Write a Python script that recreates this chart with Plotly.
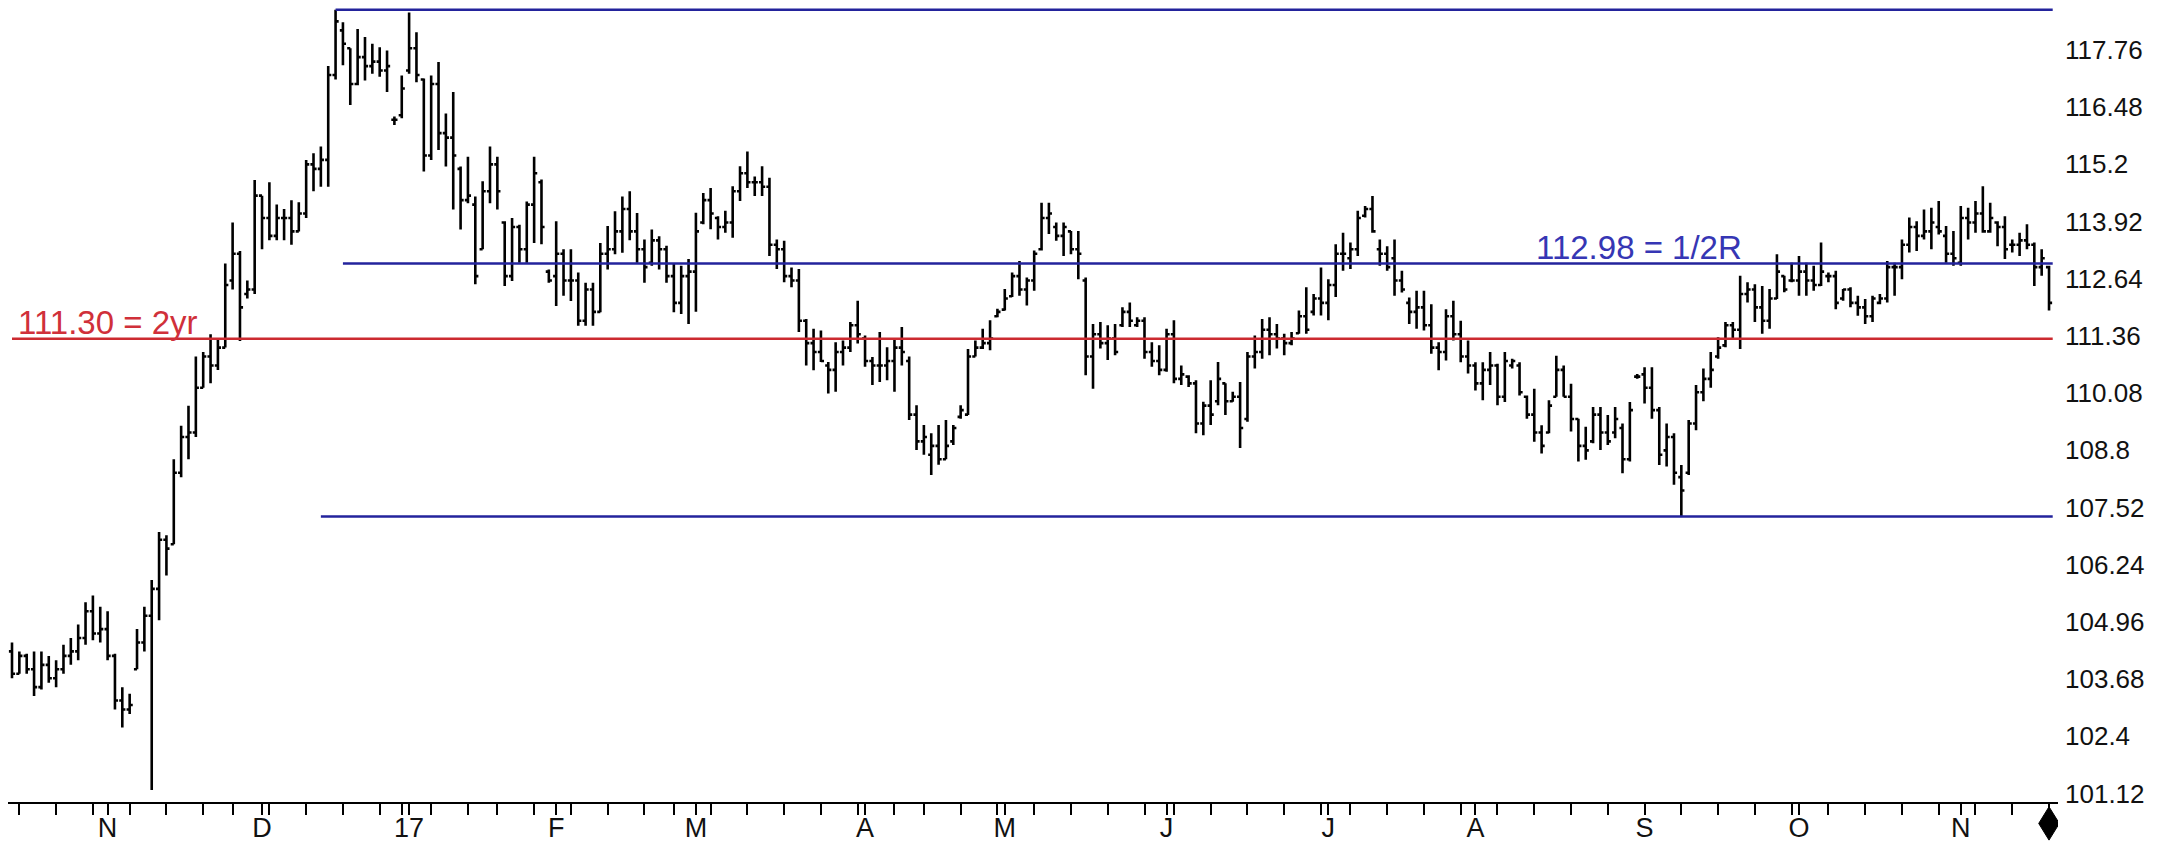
import pandas as pd
import plotly.graph_objects as go

# trading days shown on the chart (US holidays and a few thin days are missing)
first_day = "2016-10-13"
last_day = "2017-11-17"
skipped_days = ["2016-11-24", "2016-12-26", "2016-12-30", "2017-01-02", "2017-01-16",
                "2017-02-20", "2017-04-14", "2017-05-29", "2017-07-04"]

month_labels = ["N", "D", "17", "F", "M", "A", "M", "J", "J", "A", "S", "O", "N"]

open_ = [
    # Oct 2016
    104.30, 103.80, 104.20, 103.90, 103.50, 104.00, 103.70, 103.90, 104.20, 104.30, 104.60, 105.20, 104.70,
    # Nov 2016
    104.80, 104.20, 103.20, 103.00, 103.90, 104.50, 105.10, 105.70, 106.80, 106.70, 108.30, 109.10, 109.20,
    110.20, 110.90, 110.70, 111.10, 112.60, 113.20, 112.30, 112.40,
    # Dec 2016
    114.50, 114.00, 113.60, 114.00, 114.00, 113.70, 114.10, 115.20, 115.10, 115.30, 117.20, 118.20, 117.80,
    117.00, 117.60, 117.40, 117.50, 117.30, 116.20, 116.30,
    # Jan 2017
    117.30, 117.80, 117.10, 115.40, 117.00, 115.90, 115.80, 115.10, 114.40, 114.30, 113.30, 114.60, 115.20,
    113.90, 112.70, 113.80, 113.30, 114.30, 114.80, 112.80,
    # Feb 2017
    112.70, 113.20, 112.60, 112.60, 111.70, 112.40, 111.90, 113.20, 113.30, 113.70, 114.20, 113.70, 113.30,
    113.00, 113.50, 113.30, 112.70, 112.10, 112.70,
    # Mar 2017
    112.80, 113.90, 114.40, 114.00, 113.80, 113.90, 114.60, 115.00, 114.80, 114.80, 114.70, 113.40, 113.30,
    112.70, 112.60, 111.70, 111.20, 111.00, 110.70, 110.60, 111.00, 111.10, 111.60,
    # Apr 2017
    111.30, 110.80, 110.70, 110.70, 110.80, 111.10, 110.80, 109.60, 109.00, 108.70, 108.90, 108.60, 109.00,
    109.55, 109.60, 110.90, 111.10, 111.20, 111.80,
    # May 2017
    111.95, 112.25, 112.70, 112.40, 112.60, 113.30, 114.00, 113.80, 113.60, 113.70, 113.30, 112.60, 110.90,
    111.40, 111.20, 111.30, 111.60, 111.90, 111.60, 111.70, 111.00, 110.80,
    # Jun 2017
    110.60, 111.40, 110.40, 110.45, 110.30, 109.40, 109.80, 109.90, 110.30, 109.90, 110.00, 109.50, 110.90,
    111.00, 111.50, 111.40, 111.30, 111.20, 111.42, 111.80, 111.90, 112.20,
    # Jul 2017
    112.10, 112.50, 113.20, 113.10, 113.30, 114.05, 114.20, 113.30, 113.20, 113.10, 112.60, 112.10, 111.90,
    112.00, 111.60, 111.10, 111.00, 111.80, 111.40, 110.90,
    # Aug 2017
    110.70, 110.30, 110.60, 110.70, 110.00, 110.70, 110.70, 110.00, 109.60, 109.20, 109.20, 110.00, 110.60,
    110.00, 109.50, 108.90, 109.00, 109.60, 109.20, 109.20, 109.30, 108.60, 110.45,
    # Sep 2017
    110.50, 110.20, 109.70, 108.80, 109.10, 108.20, 108.30, 109.40, 110.10, 110.40, 110.90, 111.15, 111.60,
    111.50, 112.30, 112.40, 112.00, 111.70, 112.20, 112.70, 112.60,
    # Oct 2017
    112.60, 112.80, 112.60, 112.50, 112.70, 112.70, 112.20, 112.40, 112.10, 112.00, 111.80, 112.10, 112.20,
    112.90, 112.90, 113.40, 113.80, 113.60, 113.70, 113.80, 113.60, 113.20,
    # Nov 2017
    113.00, 114.00, 113.90, 114.10, 113.70, 113.90, 113.80, 113.40, 113.40, 113.50, 113.40, 112.90, 112.90,
]

high = [
    104.50, 104.30, 104.25, 104.30, 104.30, 104.20, 104.10, 104.45, 104.60, 104.90, 105.40, 105.55, 105.30,
    105.20, 104.25, 103.50, 103.35, 104.80, 105.30, 105.90, 106.97, 106.90, 108.60, 109.35, 109.80, 110.90,
    111.00, 111.40, 111.30, 112.98, 113.90, 113.26, 112.60, 114.85,
    114.50, 114.80, 114.30, 114.20, 114.40, 114.35, 115.30, 115.45, 115.60, 117.40, 118.66, 118.38, 117.80,
    118.23, 118.05, 117.90, 117.82, 117.75, 116.27, 117.19,
    118.60, 118.16, 117.12, 117.19, 117.49, 116.34, 116.82, 115.15, 115.37, 114.48, 114.82, 115.60, 115.37,
    113.93, 114.00, 113.85, 114.37, 115.37, 114.86, 112.85,
    113.93, 113.30, 113.30, 112.78, 112.55, 112.55, 113.44, 113.82, 114.15, 114.48, 114.60, 114.11, 113.52,
    113.74, 113.59, 113.38, 112.97, 112.93, 113.08,
    114.12, 114.56, 114.67, 114.04, 114.16, 114.71, 115.16, 115.49, 114.93, 115.16, 114.90, 113.52, 113.49,
    112.89, 112.86, 111.74, 111.52, 111.48, 110.78, 111.22, 111.26, 111.67, 112.15,
    111.37, 110.89, 111.45, 111.11, 111.30, 111.56, 110.90, 109.81, 109.37, 109.18, 109.37, 109.48, 109.37,
    109.81, 111.07, 111.26, 111.52, 111.71, 111.97,
    112.41, 112.78, 113.04, 112.67, 113.27, 114.34, 114.34, 113.90, 113.90, 113.71, 113.71, 112.67, 111.63,
    111.67, 111.60, 111.63, 112.00, 112.11, 111.78, 111.78, 111.22, 111.15,
    111.52, 111.71, 110.70, 110.48, 110.37, 109.89, 110.37, 110.78, 110.30, 110.11, 110.33, 111.00, 111.37,
    111.74, 111.78, 111.63, 111.41, 111.45, 111.93, 112.45, 112.30, 112.89,
    112.63, 113.41, 113.67, 113.45, 114.16, 114.27, 114.49, 113.52, 113.37, 113.52, 112.82, 112.22, 112.37,
    112.37, 112.07, 111.22, 111.96, 112.15, 111.70, 111.26,
    110.77, 110.77, 111.00, 110.74, 111.00, 110.85, 110.77, 110.03, 110.18, 109.36, 109.92, 110.92, 110.70,
    110.29, 109.51, 109.33, 109.77, 109.77, 109.59, 109.77, 109.40, 109.88, 110.51,
    110.66, 110.66, 109.77, 109.40, 109.18, 108.47, 109.48, 110.26, 110.63, 111.00, 111.33, 111.67, 111.67,
    112.71, 112.56, 112.52, 112.48, 112.41, 113.19, 112.71, 113.00,
    113.15, 113.00, 112.93, 113.45, 112.78, 112.82, 112.41, 112.45, 112.26, 112.19, 112.26, 112.30, 113.04,
    113.00, 113.52, 114.01, 113.93, 114.19, 114.23, 114.38, 113.82, 113.71,
    114.27, 114.23, 114.38, 114.71, 114.34, 113.93, 114.04, 113.52, 113.67, 113.86, 113.45, 113.30, 112.93,
]

low = [
    103.70, 103.80, 103.80, 103.30, 103.45, 103.60, 103.50, 103.80, 104.00, 104.10, 104.45, 104.55, 104.50,
    104.10, 103.00, 102.60, 102.90, 103.90, 104.30, 101.20, 105.00, 106.00, 106.70, 108.20, 108.60, 109.10,
    110.20, 110.30, 110.60, 111.10, 112.40, 111.25, 112.20, 112.30,
    113.30, 113.50, 113.50, 113.50, 113.40, 113.70, 114.00, 114.60, 114.70, 114.70, 117.10, 117.42, 116.53,
    116.97, 117.08, 117.23, 117.16, 116.82, 116.08, 116.23,
    117.23, 117.04, 115.04, 115.30, 115.52, 115.15, 114.19, 113.74, 114.33, 112.52, 113.30, 114.33, 114.19,
    112.48, 112.59, 113.00, 113.00, 113.44, 113.41, 112.55,
    112.03, 112.26, 112.14, 111.59, 111.59, 111.59, 111.89, 112.85, 113.19, 113.22, 113.50, 113.00, 112.55,
    112.93, 112.85, 112.55, 111.89, 111.85, 111.63,
    111.90, 113.86, 113.75, 113.52, 113.67, 113.56, 114.38, 114.67, 114.49, 114.49, 113.15, 112.86, 112.56,
    112.45, 111.45, 110.70, 110.59, 110.78, 110.07, 110.11, 110.70, 111.00, 111.19,
    110.67, 110.26, 110.33, 110.37, 110.11, 110.70, 109.48, 108.81, 108.70, 108.25, 108.48, 108.60, 108.92,
    109.51, 109.59, 110.90, 111.07, 111.04, 111.78,
    111.93, 112.23, 112.26, 112.04, 112.37, 113.27, 113.64, 113.49, 113.15, 113.19, 112.63, 110.48, 110.18,
    111.08, 110.82, 110.93, 111.56, 111.56, 111.56, 110.85, 110.67, 110.48,
    110.56, 110.30, 110.26, 110.22, 109.18, 109.14, 109.37, 109.81, 109.59, 109.89, 108.85, 109.44, 110.63,
    110.85, 110.93, 111.08, 110.93, 111.15, 111.41, 111.41, 111.82, 111.82,
    111.71, 112.23, 112.82, 112.86, 113.15, 114.01, 113.67, 112.93, 112.82, 112.26, 112.33, 111.63, 111.52,
    111.48, 110.96, 110.59, 110.81, 111.26, 110.77, 110.52,
    110.14, 109.92, 110.26, 109.81, 109.88, 110.63, 110.03, 109.51, 108.99, 108.73, 109.18, 110.00, 110.00,
    109.22, 108.55, 108.59, 108.96, 108.81, 108.92, 109.07, 108.29, 108.55, 110.40,
    109.85, 109.51, 108.47, 108.44, 108.03, 107.32, 108.25, 109.25, 109.90, 110.20, 110.85, 111.11, 111.30,
    111.07, 112.11, 111.67, 111.41, 111.52, 112.19, 112.34, 112.56,
    112.26, 112.26, 112.37, 112.48, 112.56, 111.96, 112.15, 112.00, 111.81, 111.63, 111.67, 112.07, 112.11,
    112.26, 112.63, 113.23, 113.26, 113.52, 113.30, 113.63, 113.00, 112.93,
    112.93, 113.52, 113.67, 113.67, 113.67, 113.37, 113.08, 113.23, 113.15, 113.30, 112.48, 112.71, 111.93,
]

close = [
    103.80, 104.20, 103.90, 103.50, 104.00, 103.70, 103.90, 104.20, 104.30, 104.60, 105.20, 104.70, 104.80,
    104.20, 103.20, 103.00, 103.10, 104.50, 105.10, 105.70, 106.80, 106.60, 108.30, 109.10, 109.20, 110.20,
    110.90, 110.70, 111.10, 112.50, 113.20, 112.00, 112.40, 114.50,
    114.00, 113.60, 114.00, 114.00, 113.70, 114.10, 115.20, 115.10, 115.30, 117.20, 118.40, 117.90, 117.00,
    117.60, 117.40, 117.50, 117.30, 117.40, 116.20, 116.90,
    117.80, 117.20, 115.40, 117.00, 115.90, 115.80, 115.40, 114.40, 114.50, 112.70, 114.60, 115.20, 114.60,
    112.70, 113.80, 113.30, 114.30, 115.00, 113.80, 112.60,
    113.20, 112.60, 112.60, 111.70, 112.40, 111.90, 113.20, 113.30, 113.70, 114.20, 113.70, 113.30, 112.90,
    113.50, 113.30, 112.70, 112.10, 112.70, 112.80,
    113.70, 114.40, 114.10, 113.80, 113.90, 114.60, 115.00, 114.80, 114.80, 114.70, 113.40, 113.30, 112.70,
    112.60, 111.70, 111.20, 111.00, 110.80, 110.60, 111.00, 111.10, 111.60, 111.40,
    110.80, 110.70, 110.70, 110.80, 111.10, 111.00, 109.60, 109.00, 109.10, 108.90, 108.60, 108.90, 109.30,
    109.70, 110.90, 111.10, 111.20, 111.30, 111.90,
    112.20, 112.70, 112.40, 112.60, 113.20, 114.00, 114.10, 113.60, 113.80, 113.30, 113.20, 110.90, 111.40,
    111.20, 111.30, 111.00, 111.90, 111.70, 111.70, 111.00, 110.80, 110.60,
    111.40, 110.40, 110.50, 110.30, 109.40, 109.80, 109.60, 110.40, 109.90, 110.00, 109.30, 110.90, 111.00,
    111.50, 111.40, 111.30, 111.20, 111.30, 111.80, 111.50, 112.20, 112.10,
    112.50, 113.20, 113.20, 113.30, 114.00, 114.20, 113.70, 113.20, 112.90, 112.60, 112.40, 111.90, 112.00,
    111.60, 111.10, 111.00, 111.80, 111.40, 110.90, 110.70,
    110.30, 110.60, 110.70, 110.00, 110.80, 110.80, 110.10, 109.60, 109.20, 108.90, 109.80, 110.60, 110.00,
    109.50, 108.90, 108.80, 109.60, 109.20, 109.00, 109.50, 108.60, 109.70, 110.45,
    110.20, 109.70, 108.70, 109.10, 108.30, 107.90, 109.40, 110.10, 110.40, 110.60, 111.10, 111.60, 111.50,
    112.30, 112.40, 112.00, 111.70, 112.20, 112.80, 112.40, 112.60,
    112.80, 112.60, 112.50, 112.80, 112.70, 112.10, 112.40, 112.10, 112.00, 111.80, 112.20, 112.20, 112.90,
    112.90, 113.40, 113.80, 113.60, 113.70, 113.90, 113.70, 113.20, 113.10,
    114.00, 113.90, 114.10, 113.70, 114.00, 113.80, 113.30, 113.40, 113.50, 113.40, 112.90, 113.10, 112.10,
]

# horizontal levels drawn on the chart: value, first day, colour
level_values = [118.66, 112.98, 111.30, 107.32]
level_starts = ["2016-12-15", "2016-12-16", "2016-10-13", "2016-12-13"]
level_colors = ["#23239c", "#23239c", "#cc2a30", "#23239c"]

y_tick_vals = [101.12, 102.40, 103.68, 104.96, 106.24, 107.52, 108.80,
               110.08, 111.36, 112.64, 113.92, 115.20, 116.48, 117.76]
y_tick_text = ["101.12", "102.4", "103.68", "104.96", "106.24", "107.52", "108.8",
               "110.08", "111.36", "112.64", "113.92", "115.2", "116.48", "117.76"]

dates = pd.bdate_range(first_day, last_day)
dates = dates[~dates.isin(pd.to_datetime(skipped_days))]
n = len(dates)
assert n == len(open_) == len(high) == len(low) == len(close)
pos = list(range(n))
pos_of = {d.strftime("%Y-%m-%d"): i for i, d in enumerate(dates)}

month_starts = [i for i in range(1, n) if dates[i].month != dates[i - 1].month]
weeks = [d.isocalendar()[1] for d in dates]
week_ends = [i for i in range(n) if i == n - 1 or weeks[i + 1] != weeks[i]]

axis_font = "Liberation Sans Narrow, Arial Narrow, Liberation Sans, Arial"
label_font = "Liberation Sans, Arial"

fig = go.Figure()

line_end = n - 1 + 0.5
for value, start, color in zip(level_values, level_starts, level_colors):
    fig.add_trace(go.Scatter(
        x=[pos_of[start], line_end], y=[value, value], mode="lines",
        line=dict(color=color, width=2.5), hoverinfo="skip", showlegend=False,
    ))

fig.add_trace(go.Ohlc(
    x=pos, open=open_, high=high, low=low, close=close,
    increasing=dict(line=dict(color="black", width=2.6)),
    decreasing=dict(line=dict(color="black", width=2.6)),
    tickwidth=0.42, showlegend=False,
))

fig.add_annotation(
    x=pos_of["2016-10-13"], y=111.30, xanchor="left", yanchor="bottom", xshift=4, yshift=-4,
    text="111.30 = 2yr", showarrow=False,
    font=dict(family=label_font, size=33, color="#d0303a"),
)
fig.add_annotation(
    x=pos_of["2017-08-11"], y=112.98, xanchor="left", yanchor="bottom", yshift=-4,
    text="112.98 = 1/2R", showarrow=False,
    font=dict(family=label_font, size=33, color="#3636b4"),
)

# end-of-data diamond under the time axis
dx = 1.4
xc = n - 1
fig.add_shape(
    type="path", xref="x", yref="paper",
    path=f"M {xc},-0.006 L {xc + dx},-0.027 L {xc},-0.048 L {xc - dx},-0.027 Z",
    fillcolor="black", line=dict(color="black", width=1),
)

# the page body adds an 8px margin, so the figure is 8px smaller than the window
fig.update_layout(
    width=2164, height=838,
    margin=dict(l=0, r=114, t=0, b=44),
    plot_bgcolor="white", paper_bgcolor="white",
    font=dict(family=axis_font, color="#111111"),
    xaxis=dict(
        range=[-0.544, n - 1 + 1.22], automargin=False,
        showgrid=False, zeroline=False, rangeslider=dict(visible=False),
        showline=True, linecolor="black", linewidth=2,
        ticks="outside", ticklen=11, tickwidth=2, tickcolor="black",
        tickmode="array", tickvals=month_starts, ticktext=month_labels,
        tickfont=dict(size=27), ticklabelstandoff=-10,
        minor=dict(tickmode="array", tickvals=week_ends, ticks="outside",
                   ticklen=11, tickwidth=2, tickcolor="black", showgrid=False),
    ),
    yaxis=dict(
        side="right", range=[100.93, 118.70], automargin=False,
        showgrid=False, zeroline=False, showline=False, ticks="",
        tickmode="array", tickvals=y_tick_vals, ticktext=y_tick_text,
        tickfont=dict(size=26), ticklabelstandoff=6,
    ),
)

fig.write_html("out.html")
